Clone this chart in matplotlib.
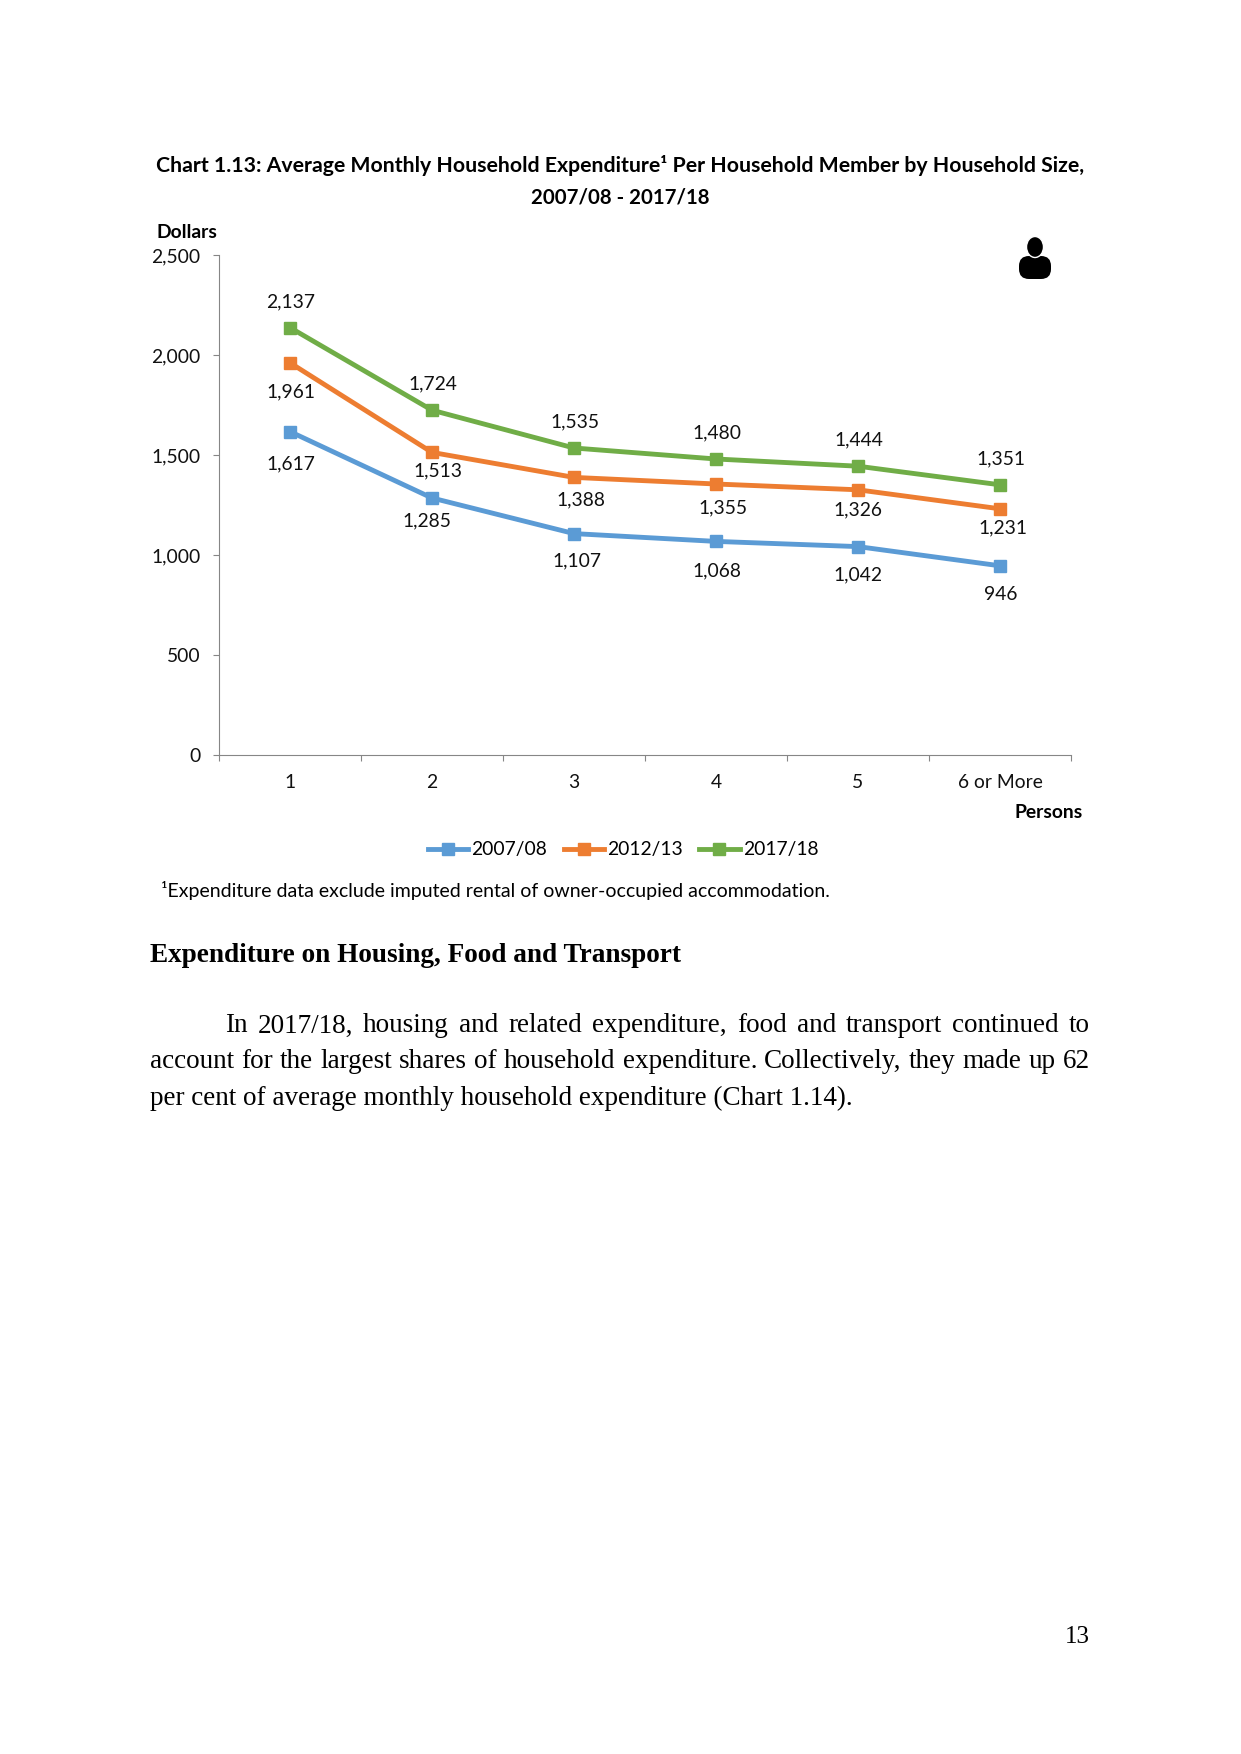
import matplotlib
matplotlib.use('Agg')
import matplotlib.pyplot as plt
from matplotlib.patches import Ellipse, FancyBboxPatch

W, H = 1241, 1754
SANS = 'Lato'
SERIF = 'Liberation Serif'
LABEL_SIZE = 13.9

categories = ['1', '2', '3', '4', '5', '6 or More']
series_names = ['2007/08', '2012/13', '2017/18']
values_2007 = [1617, 1285, 1107, 1068, 1042, 946]
values_2012 = [1961, 1513, 1388, 1355, 1326, 1231]
values_2017 = [2137, 1724, 1535, 1480, 1444, 1351]
y_ticks = [0, 500, 1000, 1500, 2000, 2500]
colors = ['#5B9BD5', '#ED7D31', '#70AD47']

# label offsets from the marker, in pixels (right, up)
offsets_2007 = [(1, -32), (-5, -23), (3, -27), (1, -29), (0, -28), (1, -29)]
offsets_2012 = [(1, -29), (6, -18), (7, -22), (7, -24), (0, -20), (3, -19)]
offsets_2017 = [(1, 26), (1, 26), (1, 26), (1, 26), (1, 26), (1, 26)]

fig = plt.figure(figsize=(W / 100, H / 100), dpi=100, facecolor='white')


def px_text(x, y, s, **kw):
    kw.setdefault('va', 'center')
    return fig.text(x / W, 1 - y / H, s, **kw)


def justified(x0, x1, y, line, **kw):
    # place the words by hand so the line fills x0..x1
    words = line.split(' ')
    r = fig.canvas.get_renderer()
    items = [px_text(x0, y, w, **kw) for w in words]
    widths = [t.get_window_extent(r).width for t in items]
    gap = (x1 - x0 - sum(widths)) / (len(words) - 1)
    x = x0
    for t, w in zip(items, widths):
        t.set_x(x / W)
        x += w + gap


ax = fig.add_axes([219 / W, 1 - 755 / H, (1071 - 219) / W, 500 / H])
xs = [i + 0.5 for i in range(len(categories))]
all_values = [values_2007, values_2012, values_2017]
all_offsets = [offsets_2007, offsets_2012, offsets_2017]

for name, vals, col, offs in zip(series_names, all_values, colors, all_offsets):
    ax.plot(xs, vals, color=col, lw=3.5, marker='s', ms=8.8, label=name,
            solid_joinstyle='round', clip_on=False)
    for x, v, (dx, dy) in zip(xs, vals, offs):
        ax.annotate(f'{v:,}', (x, v), xytext=(dx, dy), textcoords='offset pixels',
                    ha='center', va='center', fontsize=LABEL_SIZE, family=SANS, color='#111111')

ax.set_xlim(0, 6)
ax.set_ylim(0, 2500)
ax.set_xticks(range(7))
ax.set_xticklabels([])
ax.set_yticks(y_ticks)
ax.set_yticklabels([f'{v:,}' for v in y_ticks], fontsize=LABEL_SIZE, family=SANS, color='#111111')
ax.tick_params(axis='both', length=4.5, width=0.8, color='#868686')
ax.tick_params(axis='y', pad=9)
for s in ['top', 'right']:
    ax.spines[s].set_visible(False)
for s in ['left', 'bottom']:
    ax.spines[s].set_color('#868686')
    ax.spines[s].set_linewidth(0.8)
for x, c in zip(xs, categories):
    ax.annotate(c, (x, 0), xytext=(0, -27), textcoords='offset pixels',
                ha='center', va='center', fontsize=LABEL_SIZE, family=SANS, color='#111111')

px_text(620, 165, 'Chart 1.13: Average Monthly Household Expenditure¹ Per Household Member by Household Size,',
        ha='center', fontsize=15.3, family=SANS, weight='bold')
px_text(620, 198, '2007/08 - 2017/18', ha='center', fontsize=14.7, family=SANS, weight='bold')
px_text(156, 232, 'Dollars', fontsize=LABEL_SIZE, family=SANS, weight='bold')
px_text(1083, 813, 'Persons', ha='right', fontsize=LABEL_SIZE, family=SANS, weight='bold')
px_text(161, 890, '¹Expenditure data exclude imputed rental of owner-occupied accommodation.',
        fontsize=14, family=SANS)

h, l = ax.get_legend_handles_labels()
fig.legend(h, l, loc='center', bbox_to_anchor=(623 / W, 1 - 850 / H), ncol=3, frameon=False,
           prop={'family': SANS, 'size': LABEL_SIZE}, handlelength=2.1, handletextpad=0.15,
           columnspacing=0.85, numpoints=1)

# person icon
icon_ax = fig.add_axes([0, 0, 1, 1], facecolor='none')
icon_ax.set_xlim(0, W)
icon_ax.set_ylim(H, 0)
icon_ax.axis('off')
icon_ax.add_patch(FancyBboxPatch((1029, 266), 12, 3, boxstyle='round,pad=10,rounding_size=10',
                                 fc='black', ec='none'))
icon_ax.add_patch(Ellipse((1035, 247), 17, 21, fc='black', ec='white', lw=1))

px_text(150, 956, 'Expenditure on Housing, Food and Transport', fontsize=19.6,
        family=SERIF, weight='bold')
justified(225, 1090, 1026, 'In 2017/18, housing and related expenditure, food and transport continued to',
          fontsize=19.5, family=SERIF)
justified(150, 1090, 1062, 'account for the largest shares of household expenditure. Collectively, they made up 62',
          fontsize=19.5, family=SERIF)
px_text(150, 1098, 'per cent of average monthly household expenditure (Chart 1.14).',
        fontsize=19.5, family=SERIF)
px_text(1090, 1637, '13', ha='right', fontsize=18, family=SERIF)

fig.savefig('out.png', dpi=100)
